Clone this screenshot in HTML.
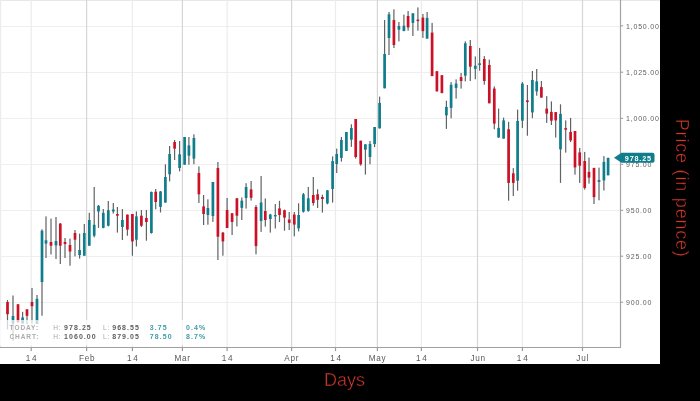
<!DOCTYPE html><html><head><meta charset="utf-8"><style>
html,body{margin:0;padding:0;background:#000;width:700px;height:401px;overflow:hidden}
svg{display:block;will-change:transform}
text{font-family:"Liberation Sans",sans-serif}
</style></head><body>
<svg width="700" height="401" viewBox="0 0 700 401">
<rect x="0" y="0" width="700" height="401" fill="#000"/>
<rect x="0" y="0" width="660" height="364" fill="#fff"/>
<rect x="0" y="0" width="660" height="1" fill="#e8e8e8"/>
<rect x="0" y="0" width="1.2" height="347" fill="#ececec"/>
<rect x="0" y="26" width="620" height="1" fill="#efefef"/>
<rect x="0" y="72" width="620" height="1" fill="#efefef"/>
<rect x="0" y="118" width="620" height="1" fill="#efefef"/>
<rect x="0" y="164" width="620" height="1" fill="#efefef"/>
<rect x="0" y="210" width="620" height="1" fill="#efefef"/>
<rect x="0" y="256" width="620" height="1" fill="#efefef"/>
<rect x="0" y="302" width="620" height="1" fill="#efefef"/>
<rect x="30.60" y="0" width="1.2" height="347" fill="#ececec"/>
<rect x="131.80" y="0" width="1.2" height="347" fill="#ececec"/>
<rect x="226.50" y="0" width="1.2" height="347" fill="#ececec"/>
<rect x="334.90" y="0" width="1.2" height="347" fill="#ececec"/>
<rect x="420.80" y="0" width="1.2" height="347" fill="#ececec"/>
<rect x="521.80" y="0" width="1.2" height="347" fill="#ececec"/>
<rect x="86.00" y="0" width="1.2" height="347" fill="#d6d6d6"/>
<rect x="181.80" y="0" width="1.2" height="347" fill="#d6d6d6"/>
<rect x="291.00" y="0" width="1.2" height="347" fill="#d6d6d6"/>
<rect x="376.80" y="0" width="1.2" height="347" fill="#d6d6d6"/>
<rect x="476.90" y="0" width="1.2" height="347" fill="#d6d6d6"/>
<rect x="581.90" y="0" width="1.2" height="347" fill="#d6d6d6"/>
<rect x="6.90" y="300.00" width="1.2" height="29.30" fill="#5f6366"/>
<rect x="6.15" y="302.00" width="2.7" height="12.20" fill="#cc1126"/>
<rect x="12.40" y="295.50" width="1.2" height="45.30" fill="#5f6366"/>
<rect x="11.65" y="316.00" width="2.7" height="7.50" fill="#0f7d8b"/>
<rect x="17.40" y="304.00" width="1.2" height="18.30" fill="#5f6366"/>
<rect x="16.65" y="304.30" width="2.7" height="18.00" fill="#cc1126"/>
<rect x="22.00" y="311.80" width="1.2" height="11.70" fill="#5f6366"/>
<rect x="21.25" y="317.50" width="2.7" height="6.00" fill="#0f7d8b"/>
<rect x="26.40" y="309.00" width="1.2" height="15.30" fill="#5f6366"/>
<rect x="25.65" y="309.40" width="2.7" height="6.40" fill="#cc1126"/>
<rect x="31.40" y="288.00" width="1.2" height="35.50" fill="#5f6366"/>
<rect x="30.65" y="302.00" width="2.7" height="4.20" fill="#cc1126"/>
<rect x="36.40" y="295.00" width="1.2" height="29.00" fill="#5f6366"/>
<rect x="35.65" y="298.80" width="2.7" height="25.20" fill="#0f7d8b"/>
<rect x="41.40" y="229.30" width="1.2" height="86.40" fill="#5f6366"/>
<rect x="40.65" y="230.70" width="2.7" height="51.30" fill="#0f7d8b"/>
<rect x="45.40" y="216.40" width="1.2" height="41.60" fill="#5f6366"/>
<rect x="44.65" y="240.30" width="2.7" height="3.30" fill="#0f7d8b"/>
<rect x="50.40" y="218.60" width="1.2" height="35.90" fill="#5f6366"/>
<rect x="49.65" y="242.00" width="2.7" height="3.70" fill="#cc1126"/>
<rect x="55.40" y="217.00" width="1.2" height="42.00" fill="#5f6366"/>
<rect x="54.65" y="241.00" width="2.7" height="4.40" fill="#0f7d8b"/>
<rect x="59.70" y="223.00" width="1.2" height="41.00" fill="#5f6366"/>
<rect x="58.95" y="223.60" width="2.7" height="22.10" fill="#cc1126"/>
<rect x="64.40" y="238.00" width="1.2" height="20.00" fill="#5f6366"/>
<rect x="63.65" y="242.00" width="2.7" height="2.00" fill="#cc1126"/>
<rect x="69.40" y="238.60" width="1.2" height="27.10" fill="#5f6366"/>
<rect x="68.65" y="245.00" width="2.7" height="6.50" fill="#cc1126"/>
<rect x="74.40" y="230.00" width="1.2" height="26.40" fill="#5f6366"/>
<rect x="73.65" y="233.00" width="2.7" height="6.70" fill="#cc1126"/>
<rect x="79.00" y="233.60" width="1.2" height="25.00" fill="#5f6366"/>
<rect x="78.25" y="250.00" width="2.7" height="5.00" fill="#0f7d8b"/>
<rect x="83.70" y="224.00" width="1.2" height="31.70" fill="#5f6366"/>
<rect x="82.95" y="233.00" width="2.7" height="22.70" fill="#0f7d8b"/>
<rect x="88.70" y="212.80" width="1.2" height="32.90" fill="#5f6366"/>
<rect x="87.95" y="220.00" width="2.7" height="25.70" fill="#0f7d8b"/>
<rect x="93.60" y="187.00" width="1.2" height="50.40" fill="#5f6366"/>
<rect x="92.85" y="224.80" width="2.7" height="10.90" fill="#0f7d8b"/>
<rect x="97.90" y="205.00" width="1.2" height="22.90" fill="#5f6366"/>
<rect x="97.15" y="205.80" width="2.7" height="5.70" fill="#0f7d8b"/>
<rect x="102.70" y="209.00" width="1.2" height="19.30" fill="#5f6366"/>
<rect x="101.95" y="212.90" width="2.7" height="15.00" fill="#0f7d8b"/>
<rect x="107.70" y="201.00" width="1.2" height="25.40" fill="#5f6366"/>
<rect x="106.95" y="210.20" width="2.7" height="15.50" fill="#0f7d8b"/>
<rect x="112.70" y="203.00" width="1.2" height="10.60" fill="#5f6366"/>
<rect x="111.95" y="209.50" width="2.7" height="2.00" fill="#0f7d8b"/>
<rect x="116.80" y="207.00" width="1.2" height="25.60" fill="#5f6366"/>
<rect x="116.05" y="214.00" width="2.7" height="1.70" fill="#cc1126"/>
<rect x="121.80" y="209.00" width="1.2" height="31.00" fill="#5f6366"/>
<rect x="121.05" y="220.00" width="2.7" height="7.00" fill="#0f7d8b"/>
<rect x="126.80" y="214.60" width="1.2" height="21.10" fill="#5f6366"/>
<rect x="126.05" y="214.60" width="2.7" height="15.00" fill="#cc1126"/>
<rect x="131.80" y="214.00" width="1.2" height="41.70" fill="#5f6366"/>
<rect x="131.05" y="214.00" width="2.7" height="27.40" fill="#cc1126"/>
<rect x="135.80" y="211.40" width="1.2" height="35.00" fill="#5f6366"/>
<rect x="135.05" y="216.40" width="2.7" height="23.30" fill="#0f7d8b"/>
<rect x="140.80" y="210.00" width="1.2" height="17.00" fill="#5f6366"/>
<rect x="140.05" y="215.70" width="2.7" height="10.00" fill="#cc1126"/>
<rect x="145.80" y="210.00" width="1.2" height="30.70" fill="#5f6366"/>
<rect x="145.05" y="218.00" width="2.7" height="4.00" fill="#cc1126"/>
<rect x="150.80" y="191.50" width="1.2" height="42.10" fill="#5f6366"/>
<rect x="150.05" y="192.00" width="2.7" height="41.00" fill="#0f7d8b"/>
<rect x="155.10" y="189.00" width="1.2" height="20.30" fill="#5f6366"/>
<rect x="154.35" y="191.70" width="2.7" height="10.30" fill="#cc1126"/>
<rect x="159.90" y="191.00" width="1.2" height="21.50" fill="#5f6366"/>
<rect x="159.15" y="191.50" width="2.7" height="15.40" fill="#0f7d8b"/>
<rect x="164.80" y="164.30" width="1.2" height="38.30" fill="#5f6366"/>
<rect x="164.05" y="177.00" width="2.7" height="25.60" fill="#0f7d8b"/>
<rect x="169.00" y="146.00" width="1.2" height="35.40" fill="#5f6366"/>
<rect x="168.25" y="154.00" width="2.7" height="20.30" fill="#0f7d8b"/>
<rect x="174.00" y="140.00" width="1.2" height="20.00" fill="#5f6366"/>
<rect x="173.25" y="142.00" width="2.7" height="6.60" fill="#cc1126"/>
<rect x="179.00" y="141.00" width="1.2" height="30.40" fill="#5f6366"/>
<rect x="178.25" y="154.30" width="2.7" height="13.70" fill="#0f7d8b"/>
<rect x="184.00" y="137.00" width="1.2" height="27.70" fill="#5f6366"/>
<rect x="183.25" y="137.00" width="2.7" height="27.70" fill="#0f7d8b"/>
<rect x="188.30" y="137.00" width="1.2" height="27.70" fill="#5f6366"/>
<rect x="187.55" y="145.40" width="2.7" height="10.30" fill="#0f7d8b"/>
<rect x="193.30" y="134.30" width="1.2" height="30.00" fill="#5f6366"/>
<rect x="192.55" y="138.00" width="2.7" height="20.60" fill="#0f7d8b"/>
<rect x="198.30" y="166.40" width="1.2" height="36.60" fill="#5f6366"/>
<rect x="197.55" y="173.00" width="2.7" height="21.30" fill="#cc1126"/>
<rect x="203.00" y="195.00" width="1.2" height="30.00" fill="#5f6366"/>
<rect x="202.25" y="206.40" width="2.7" height="7.60" fill="#cc1126"/>
<rect x="207.30" y="199.30" width="1.2" height="25.40" fill="#5f6366"/>
<rect x="206.55" y="208.00" width="2.7" height="7.00" fill="#0f7d8b"/>
<rect x="212.30" y="182.00" width="1.2" height="39.90" fill="#5f6366"/>
<rect x="211.55" y="182.00" width="2.7" height="34.00" fill="#0f7d8b"/>
<rect x="217.30" y="162.00" width="1.2" height="98.00" fill="#5f6366"/>
<rect x="216.55" y="168.00" width="2.7" height="68.70" fill="#cc1126"/>
<rect x="222.30" y="232.00" width="1.2" height="23.70" fill="#5f6366"/>
<rect x="221.55" y="232.60" width="2.7" height="8.80" fill="#cc1126"/>
<rect x="226.50" y="198.00" width="1.2" height="30.00" fill="#5f6366"/>
<rect x="225.75" y="210.00" width="2.7" height="18.00" fill="#cc1126"/>
<rect x="231.50" y="213.00" width="1.2" height="22.00" fill="#5f6366"/>
<rect x="230.75" y="213.30" width="2.7" height="8.70" fill="#cc1126"/>
<rect x="236.30" y="198.00" width="1.2" height="28.40" fill="#5f6366"/>
<rect x="235.55" y="198.30" width="2.7" height="17.40" fill="#cc1126"/>
<rect x="241.20" y="197.50" width="1.2" height="22.50" fill="#5f6366"/>
<rect x="240.45" y="200.70" width="2.7" height="7.20" fill="#0f7d8b"/>
<rect x="245.50" y="183.20" width="1.2" height="25.40" fill="#5f6366"/>
<rect x="244.75" y="187.00" width="2.7" height="11.00" fill="#0f7d8b"/>
<rect x="250.50" y="181.00" width="1.2" height="19.60" fill="#5f6366"/>
<rect x="249.75" y="189.40" width="2.7" height="8.40" fill="#cc1126"/>
<rect x="255.40" y="205.00" width="1.2" height="49.30" fill="#5f6366"/>
<rect x="254.65" y="207.00" width="2.7" height="39.10" fill="#cc1126"/>
<rect x="260.50" y="176.00" width="1.2" height="55.90" fill="#5f6366"/>
<rect x="259.75" y="202.50" width="2.7" height="18.50" fill="#0f7d8b"/>
<rect x="264.70" y="198.40" width="1.2" height="28.20" fill="#5f6366"/>
<rect x="263.95" y="211.00" width="2.7" height="9.00" fill="#cc1126"/>
<rect x="269.70" y="213.80" width="1.2" height="18.80" fill="#5f6366"/>
<rect x="268.95" y="214.50" width="2.7" height="4.50" fill="#0f7d8b"/>
<rect x="274.70" y="204.00" width="1.2" height="24.50" fill="#5f6366"/>
<rect x="273.95" y="215.00" width="2.7" height="1.40" fill="#0f7d8b"/>
<rect x="278.90" y="200.80" width="1.2" height="21.20" fill="#5f6366"/>
<rect x="278.15" y="208.40" width="2.7" height="6.60" fill="#cc1126"/>
<rect x="283.90" y="209.60" width="1.2" height="21.10" fill="#5f6366"/>
<rect x="283.15" y="210.20" width="2.7" height="7.40" fill="#cc1126"/>
<rect x="288.60" y="212.00" width="1.2" height="18.00" fill="#5f6366"/>
<rect x="287.85" y="219.50" width="2.7" height="3.40" fill="#cc1126"/>
<rect x="293.70" y="212.00" width="1.2" height="24.40" fill="#5f6366"/>
<rect x="292.95" y="214.60" width="2.7" height="10.00" fill="#cc1126"/>
<rect x="298.00" y="203.30" width="1.2" height="28.10" fill="#5f6366"/>
<rect x="297.25" y="215.00" width="2.7" height="13.30" fill="#0f7d8b"/>
<rect x="302.80" y="193.00" width="1.2" height="19.60" fill="#5f6366"/>
<rect x="302.05" y="194.30" width="2.7" height="17.40" fill="#0f7d8b"/>
<rect x="307.70" y="187.00" width="1.2" height="24.70" fill="#5f6366"/>
<rect x="306.95" y="198.30" width="2.7" height="12.60" fill="#0f7d8b"/>
<rect x="312.70" y="177.00" width="1.2" height="28.60" fill="#5f6366"/>
<rect x="311.95" y="195.00" width="2.7" height="8.00" fill="#cc1126"/>
<rect x="317.00" y="189.30" width="1.2" height="18.70" fill="#5f6366"/>
<rect x="316.25" y="194.30" width="2.7" height="5.50" fill="#cc1126"/>
<rect x="321.80" y="194.70" width="1.2" height="17.90" fill="#5f6366"/>
<rect x="321.05" y="197.00" width="2.7" height="2.00" fill="#cc1126"/>
<rect x="326.80" y="190.30" width="1.2" height="14.00" fill="#5f6366"/>
<rect x="326.05" y="190.30" width="2.7" height="13.10" fill="#0f7d8b"/>
<rect x="332.00" y="156.40" width="1.2" height="46.20" fill="#5f6366"/>
<rect x="331.25" y="161.10" width="2.7" height="27.90" fill="#0f7d8b"/>
<rect x="336.10" y="148.60" width="1.2" height="24.40" fill="#5f6366"/>
<rect x="335.35" y="154.00" width="2.7" height="10.00" fill="#0f7d8b"/>
<rect x="340.80" y="137.00" width="1.2" height="24.60" fill="#5f6366"/>
<rect x="340.05" y="140.00" width="2.7" height="17.90" fill="#0f7d8b"/>
<rect x="345.80" y="132.00" width="1.2" height="19.00" fill="#5f6366"/>
<rect x="345.05" y="132.00" width="2.7" height="19.00" fill="#0f7d8b"/>
<rect x="350.80" y="124.30" width="1.2" height="22.60" fill="#5f6366"/>
<rect x="350.05" y="128.00" width="2.7" height="11.70" fill="#0f7d8b"/>
<rect x="355.10" y="119.00" width="1.2" height="39.60" fill="#5f6366"/>
<rect x="354.35" y="119.00" width="2.7" height="38.00" fill="#cc1126"/>
<rect x="360.10" y="140.70" width="1.2" height="25.00" fill="#5f6366"/>
<rect x="359.35" y="140.70" width="2.7" height="23.60" fill="#cc1126"/>
<rect x="364.80" y="144.30" width="1.2" height="30.30" fill="#5f6366"/>
<rect x="364.05" y="144.30" width="2.7" height="5.40" fill="#0f7d8b"/>
<rect x="369.40" y="141.00" width="1.2" height="23.30" fill="#5f6366"/>
<rect x="368.65" y="144.00" width="2.7" height="13.00" fill="#0f7d8b"/>
<rect x="374.00" y="127.00" width="1.2" height="20.10" fill="#5f6366"/>
<rect x="373.25" y="127.00" width="2.7" height="17.00" fill="#0f7d8b"/>
<rect x="379.00" y="96.60" width="1.2" height="32.00" fill="#5f6366"/>
<rect x="378.25" y="102.90" width="2.7" height="25.40" fill="#0f7d8b"/>
<rect x="384.00" y="20.00" width="1.2" height="68.30" fill="#5f6366"/>
<rect x="383.25" y="54.00" width="2.7" height="34.30" fill="#0f7d8b"/>
<rect x="388.40" y="12.00" width="1.2" height="43.00" fill="#5f6366"/>
<rect x="387.65" y="14.30" width="2.7" height="23.70" fill="#0f7d8b"/>
<rect x="393.30" y="9.30" width="1.2" height="38.70" fill="#5f6366"/>
<rect x="392.55" y="20.00" width="2.7" height="25.00" fill="#cc1126"/>
<rect x="398.30" y="22.00" width="1.2" height="19.40" fill="#5f6366"/>
<rect x="397.55" y="26.00" width="2.7" height="3.70" fill="#0f7d8b"/>
<rect x="403.30" y="14.60" width="1.2" height="16.50" fill="#5f6366"/>
<rect x="402.55" y="25.70" width="2.7" height="5.40" fill="#0f7d8b"/>
<rect x="407.50" y="11.00" width="1.2" height="19.70" fill="#5f6366"/>
<rect x="406.75" y="16.00" width="2.7" height="11.40" fill="#cc1126"/>
<rect x="412.30" y="13.30" width="1.2" height="22.70" fill="#5f6366"/>
<rect x="411.55" y="13.30" width="2.7" height="9.60" fill="#0f7d8b"/>
<rect x="417.30" y="7.40" width="1.2" height="23.30" fill="#5f6366"/>
<rect x="416.55" y="19.60" width="2.7" height="1.50" fill="#cc1126"/>
<rect x="422.30" y="14.00" width="1.2" height="23.90" fill="#5f6366"/>
<rect x="421.55" y="17.60" width="2.7" height="13.50" fill="#cc1126"/>
<rect x="426.50" y="12.00" width="1.2" height="26.60" fill="#5f6366"/>
<rect x="425.75" y="17.90" width="2.7" height="20.70" fill="#0f7d8b"/>
<rect x="431.50" y="22.90" width="1.2" height="53.20" fill="#5f6366"/>
<rect x="430.75" y="32.60" width="2.7" height="43.50" fill="#cc1126"/>
<rect x="436.30" y="71.10" width="1.2" height="20.30" fill="#5f6366"/>
<rect x="435.55" y="71.20" width="2.7" height="20.20" fill="#cc1126"/>
<rect x="441.30" y="75.00" width="1.2" height="18.10" fill="#5f6366"/>
<rect x="440.55" y="75.20" width="2.7" height="17.90" fill="#cc1126"/>
<rect x="445.80" y="100.70" width="1.2" height="28.20" fill="#5f6366"/>
<rect x="445.05" y="106.90" width="2.7" height="8.50" fill="#0f7d8b"/>
<rect x="450.50" y="82.10" width="1.2" height="36.20" fill="#5f6366"/>
<rect x="449.75" y="84.80" width="2.7" height="23.10" fill="#0f7d8b"/>
<rect x="455.50" y="79.40" width="1.2" height="19.20" fill="#5f6366"/>
<rect x="454.75" y="83.60" width="2.7" height="4.30" fill="#0f7d8b"/>
<rect x="460.50" y="73.00" width="1.2" height="15.60" fill="#5f6366"/>
<rect x="459.75" y="77.10" width="2.7" height="3.90" fill="#cc1126"/>
<rect x="464.70" y="41.40" width="1.2" height="40.00" fill="#5f6366"/>
<rect x="463.95" y="43.30" width="2.7" height="32.40" fill="#0f7d8b"/>
<rect x="469.70" y="40.00" width="1.2" height="41.00" fill="#5f6366"/>
<rect x="468.95" y="46.00" width="2.7" height="20.70" fill="#cc1126"/>
<rect x="474.70" y="56.40" width="1.2" height="22.90" fill="#5f6366"/>
<rect x="473.95" y="65.70" width="2.7" height="3.20" fill="#0f7d8b"/>
<rect x="479.00" y="47.90" width="1.2" height="22.80" fill="#5f6366"/>
<rect x="478.25" y="63.30" width="2.7" height="1.70" fill="#0f7d8b"/>
<rect x="483.70" y="56.10" width="1.2" height="28.60" fill="#5f6366"/>
<rect x="482.95" y="59.00" width="2.7" height="22.00" fill="#cc1126"/>
<rect x="488.70" y="59.60" width="1.2" height="43.70" fill="#5f6366"/>
<rect x="487.95" y="65.00" width="2.7" height="38.30" fill="#cc1126"/>
<rect x="493.70" y="86.40" width="1.2" height="42.90" fill="#5f6366"/>
<rect x="492.95" y="88.60" width="2.7" height="35.00" fill="#cc1126"/>
<rect x="498.00" y="108.60" width="1.2" height="29.40" fill="#5f6366"/>
<rect x="497.25" y="127.90" width="2.7" height="9.50" fill="#0f7d8b"/>
<rect x="503.00" y="117.60" width="1.2" height="21.00" fill="#5f6366"/>
<rect x="502.25" y="120.40" width="2.7" height="18.20" fill="#0f7d8b"/>
<rect x="508.00" y="121.90" width="1.2" height="78.80" fill="#5f6366"/>
<rect x="507.25" y="129.30" width="2.7" height="53.60" fill="#cc1126"/>
<rect x="512.70" y="168.10" width="1.2" height="27.90" fill="#5f6366"/>
<rect x="511.95" y="173.30" width="2.7" height="9.60" fill="#cc1126"/>
<rect x="517.00" y="109.60" width="1.2" height="81.10" fill="#5f6366"/>
<rect x="516.25" y="121.00" width="2.7" height="59.70" fill="#0f7d8b"/>
<rect x="521.80" y="82.10" width="1.2" height="45.80" fill="#5f6366"/>
<rect x="521.05" y="83.60" width="2.7" height="37.10" fill="#0f7d8b"/>
<rect x="526.80" y="85.00" width="1.2" height="50.70" fill="#5f6366"/>
<rect x="526.05" y="100.40" width="2.7" height="1.70" fill="#cc1126"/>
<rect x="531.80" y="71.00" width="1.2" height="47.10" fill="#5f6366"/>
<rect x="531.05" y="80.00" width="2.7" height="32.40" fill="#0f7d8b"/>
<rect x="536.10" y="69.00" width="1.2" height="26.70" fill="#5f6366"/>
<rect x="535.35" y="81.40" width="2.7" height="10.00" fill="#0f7d8b"/>
<rect x="540.80" y="81.00" width="1.2" height="16.60" fill="#5f6366"/>
<rect x="540.05" y="87.10" width="2.7" height="10.50" fill="#cc1126"/>
<rect x="546.10" y="96.10" width="1.2" height="26.80" fill="#5f6366"/>
<rect x="545.35" y="108.60" width="2.7" height="5.00" fill="#cc1126"/>
<rect x="550.80" y="101.40" width="1.2" height="23.60" fill="#5f6366"/>
<rect x="550.05" y="111.90" width="2.7" height="8.80" fill="#cc1126"/>
<rect x="555.10" y="112.00" width="1.2" height="25.60" fill="#5f6366"/>
<rect x="554.35" y="112.10" width="2.7" height="8.30" fill="#cc1126"/>
<rect x="559.90" y="104.30" width="1.2" height="78.60" fill="#5f6366"/>
<rect x="559.15" y="113.90" width="2.7" height="35.40" fill="#0f7d8b"/>
<rect x="565.10" y="120.40" width="1.2" height="32.20" fill="#5f6366"/>
<rect x="564.35" y="128.10" width="2.7" height="1.60" fill="#cc1126"/>
<rect x="570.00" y="117.90" width="1.2" height="24.20" fill="#5f6366"/>
<rect x="569.25" y="131.90" width="2.7" height="8.50" fill="#cc1126"/>
<rect x="574.40" y="131.00" width="1.2" height="43.70" fill="#5f6366"/>
<rect x="573.65" y="131.00" width="2.7" height="36.40" fill="#cc1126"/>
<rect x="579.10" y="147.90" width="1.2" height="35.00" fill="#5f6366"/>
<rect x="578.35" y="152.40" width="2.7" height="13.30" fill="#cc1126"/>
<rect x="584.10" y="151.90" width="1.2" height="37.70" fill="#5f6366"/>
<rect x="583.35" y="161.00" width="2.7" height="26.90" fill="#cc1126"/>
<rect x="588.40" y="157.60" width="1.2" height="26.00" fill="#5f6366"/>
<rect x="587.65" y="171.90" width="2.7" height="5.70" fill="#cc1126"/>
<rect x="593.40" y="167.90" width="1.2" height="36.10" fill="#5f6366"/>
<rect x="592.65" y="167.90" width="2.7" height="29.20" fill="#cc1126"/>
<rect x="598.40" y="167.60" width="1.2" height="32.70" fill="#5f6366"/>
<rect x="597.65" y="180.00" width="2.7" height="1.90" fill="#0f7d8b"/>
<rect x="603.30" y="156.10" width="1.2" height="34.40" fill="#5f6366"/>
<rect x="602.55" y="161.90" width="2.7" height="18.50" fill="#0f7d8b"/>
<rect x="607.50" y="157.60" width="1.2" height="17.70" fill="#5f6366"/>
<rect x="606.75" y="157.90" width="2.7" height="17.40" fill="#0f7d8b"/>
<rect x="0" y="320" width="215" height="25" fill="#fff" fill-opacity="0.72"/>
<text x="9.6" y="330.2" font-size="6.5" letter-spacing="0.95" font-weight="bold" fill="#acacac">TODAY:</text>
<text x="9.4" y="339.0" font-size="6.5" letter-spacing="0.95" font-weight="bold" fill="#acacac">CHART:</text>
<text x="53.2" y="330.2" font-size="6.6" letter-spacing="0.9" fill="#a8a8a8">H:</text>
<text x="53.2" y="339.0" font-size="6.6" letter-spacing="0.9" fill="#a8a8a8">H:</text>
<text x="64.0" y="330.2" font-size="7" letter-spacing="1.07" font-weight="bold" fill="#5c5c5c">978.25</text>
<text x="64.0" y="339.0" font-size="7" letter-spacing="1.07" font-weight="bold" fill="#5c5c5c">1060.00</text>
<text x="103" y="330.2" font-size="6.6" letter-spacing="0.9" fill="#a8a8a8">L:</text>
<text x="103" y="339.0" font-size="6.6" letter-spacing="0.9" fill="#a8a8a8">L:</text>
<text x="112.2" y="330.2" font-size="7" letter-spacing="1.07" font-weight="bold" fill="#5c5c5c">968.55</text>
<text x="112.2" y="339.0" font-size="7" letter-spacing="1.07" font-weight="bold" fill="#5c5c5c">879.05</text>
<text x="149.8" y="330.2" font-size="7" letter-spacing="1.07" font-weight="bold" fill="#3d9ca8">3.75</text>
<text x="149.8" y="339.0" font-size="7" letter-spacing="1.07" font-weight="bold" fill="#3d9ca8">78.50</text>
<text x="186.0" y="330.2" font-size="7" letter-spacing="1.07" font-weight="bold" fill="#3d9ca8">0.4%</text>
<text x="186.0" y="339.0" font-size="7" letter-spacing="1.07" font-weight="bold" fill="#3d9ca8">8.7%</text>
<rect x="0" y="347" width="621" height="1" fill="#a0a0a0"/>
<rect x="86.00" y="347.5" width="1.2" height="3.6" fill="#9a9a9a"/>
<rect x="181.80" y="347.5" width="1.2" height="3.6" fill="#9a9a9a"/>
<rect x="291.00" y="347.5" width="1.2" height="3.6" fill="#9a9a9a"/>
<rect x="376.80" y="347.5" width="1.2" height="3.6" fill="#9a9a9a"/>
<rect x="476.90" y="347.5" width="1.2" height="3.6" fill="#9a9a9a"/>
<rect x="581.90" y="347.5" width="1.2" height="3.6" fill="#9a9a9a"/>
<rect x="30.60" y="347.5" width="1.2" height="3.6" fill="#9a9a9a"/>
<rect x="131.80" y="347.5" width="1.2" height="3.6" fill="#9a9a9a"/>
<rect x="226.50" y="347.5" width="1.2" height="3.6" fill="#9a9a9a"/>
<rect x="334.90" y="347.5" width="1.2" height="3.6" fill="#9a9a9a"/>
<rect x="420.80" y="347.5" width="1.2" height="3.6" fill="#9a9a9a"/>
<rect x="521.80" y="347.5" width="1.2" height="3.6" fill="#9a9a9a"/>
<text x="32.10" y="360.6" font-size="8.2" letter-spacing="1.8" fill="#585858" text-anchor="middle">14</text>
<text x="87.15" y="360.6" font-size="8.2" letter-spacing="0.7" fill="#585858" text-anchor="middle">Feb</text>
<text x="133.30" y="360.6" font-size="8.2" letter-spacing="1.8" fill="#585858" text-anchor="middle">14</text>
<text x="182.55" y="360.6" font-size="8.2" letter-spacing="0.7" fill="#585858" text-anchor="middle">Mar</text>
<text x="228.00" y="360.6" font-size="8.2" letter-spacing="1.8" fill="#585858" text-anchor="middle">14</text>
<text x="291.75" y="360.6" font-size="8.2" letter-spacing="0.7" fill="#585858" text-anchor="middle">Apr</text>
<text x="336.60" y="360.6" font-size="8.2" letter-spacing="1.8" fill="#585858" text-anchor="middle">14</text>
<text x="377.45" y="360.6" font-size="8.2" letter-spacing="0.7" fill="#585858" text-anchor="middle">May</text>
<text x="422.30" y="360.6" font-size="8.2" letter-spacing="1.8" fill="#585858" text-anchor="middle">14</text>
<text x="478.05" y="360.6" font-size="8.2" letter-spacing="0.7" fill="#585858" text-anchor="middle">Jun</text>
<text x="523.20" y="360.6" font-size="8.2" letter-spacing="1.8" fill="#585858" text-anchor="middle">14</text>
<text x="582.65" y="360.6" font-size="8.2" letter-spacing="0.7" fill="#585858" text-anchor="middle">Jul</text>
<rect x="619.9" y="0" width="1.2" height="347.5" fill="#a3a3a3"/>
<rect x="621" y="25.30" width="2.2" height="1" fill="#999"/>
<text x="626" y="28.50" font-size="7" letter-spacing="0.8" fill="#5e5e5e">1,050.00</text>
<rect x="621" y="71.70" width="2.2" height="1" fill="#999"/>
<text x="626" y="74.90" font-size="7" letter-spacing="0.8" fill="#5e5e5e">1,025.00</text>
<rect x="621" y="117.80" width="2.2" height="1" fill="#999"/>
<text x="626" y="121.00" font-size="7" letter-spacing="0.8" fill="#5e5e5e">1,000.00</text>
<rect x="621" y="163.80" width="2.2" height="1" fill="#999"/>
<text x="626" y="167.00" font-size="7" letter-spacing="0.8" fill="#5e5e5e">975.00</text>
<rect x="621" y="209.80" width="2.2" height="1" fill="#999"/>
<text x="626" y="213.00" font-size="7" letter-spacing="0.8" fill="#5e5e5e">950.00</text>
<rect x="621" y="255.70" width="2.2" height="1" fill="#999"/>
<text x="626" y="258.90" font-size="7" letter-spacing="0.8" fill="#5e5e5e">925.00</text>
<rect x="621" y="301.70" width="2.2" height="1" fill="#999"/>
<text x="626" y="304.90" font-size="7" letter-spacing="0.8" fill="#5e5e5e">900.00</text>
<path d="M614,157.8 L621.5,152.8 L652.5,152.8 Q654.5,152.8 654.5,154.8 L654.5,160.8 Q654.5,162.8 652.5,162.8 L621.5,162.8 Z" fill="#0f7d8b"/>
<text x="624.8" y="160.7" font-size="7.2" letter-spacing="0.85" fill="#fff" font-weight="bold">978.25</text>
<text x="324" y="386.1" font-size="18" fill="#d0392c" stroke="#000" stroke-width="0.45">Days</text>
<text transform="translate(676,118.8) rotate(90)" x="0" y="0" font-size="18" letter-spacing="0.8" fill="#d0392c" stroke="#000" stroke-width="0.45">Price (in pence)</text>
</svg></body></html>
